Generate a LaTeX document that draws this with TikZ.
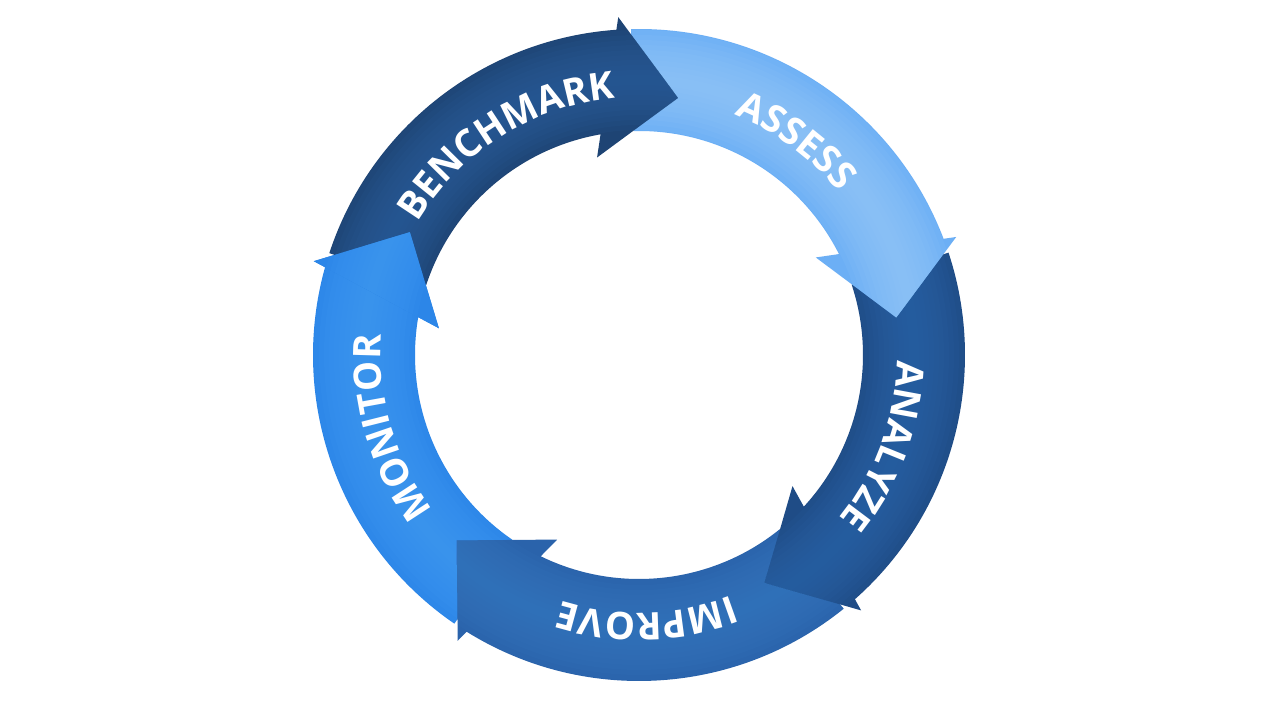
\documentclass[tikz,border=0pt]{standalone}
\usepackage{fontspec}
\setmainfont{Open Sans}
\usetikzlibrary{decorations.text}
\definecolor{bmBase}{HTML}{1E4474}\definecolor{bmGlow}{HTML}{2B5F9D}
\definecolor{asBase}{HTML}{6CAFF5}\definecolor{asGlow}{HTML}{95C9FB}
\definecolor{anBase}{HTML}{1F4C86}\definecolor{anGlow}{HTML}{2B66AA}
\definecolor{imBase}{HTML}{2A63AB}\definecolor{imGlow}{HTML}{3677C0}
\definecolor{moBase}{HTML}{2C86E8}\definecolor{moGlow}{HTML}{419AF3}
% arrow outline: #1 = tail angle, #2 = tip angle
\newcommand{\ArrowPath}[2]{({#1}:326) arc[start angle={#1}, end angle={#2+12.58}, radius=326] -- ({#2+12.11}:338.5) -- ({#2}:260) -- ({#2+20.59}:201.9) -- ({#2+18.48}:224) arc[start angle={#2+18.48}, end angle={#1}, radius=224] -- cycle}
\newcommand{\HeadPath}[1]{({#1+12.11}:338.5) -- ({#1}:260) -- ({#1+20.59}:201.9) -- cycle}
\newcommand{\ArrowPaint}[4]{%
  \fill[#3] (0,0) circle (400);
  \foreach \w in {100,90,...,10}
    \draw[#4, opacity=0.13, line width=\w pt] ({#1}:275) arc[start angle={#1}, end angle={#2}, radius=275];}
\newcommand{\DrawArrow}[4]{%
  \begin{scope}\clip \ArrowPath{#1}{#2}; \ArrowPaint{#1}{#2}{#3}{#4}\end{scope}}
\newcommand{\lbl}{\fontsize{38}{38}\selectfont\bfseries}
\tikzset{ringlabel/.style={decorate, decoration={text along path, text={|\lbl|#1}, text align=center, text color=white}}}
\begin{document}
\begin{tikzpicture}[x=1pt,y=1pt]
\useasboundingbox (0,0) rectangle (1280,720);
\fill[white] (0,0) rectangle (1280,720);
\begin{scope}[shift={(639,365)}]
\coordinate (C) at (0,0);
% bodies, drawn so that each head lies over the next tail
\DrawArrow{235.5}{151.8}{moBase}{moGlow}% MONITOR
\DrawArrow{-51.1}{-134.5}{imBase}{imGlow}% IMPROVE
\DrawArrow{18.3}{-61.1}{anBase}{anGlow}% ANALYZE
\DrawArrow{91.4}{8.3}{asBase}{asGlow}% ASSESS
\DrawArrow{161.8}{81.4}{bmBase}{bmGlow}% BENCHMARK
% MONITOR head again, over the BENCHMARK tail
\begin{scope}\clip \HeadPath{151.8}; \ArrowPaint{235.5}{151.8}{moBase}{moGlow}\end{scope}
% labels
\path[ringlabel=BENCHMARK] ({122.2+40}:258) arc[start angle={122.2+40}, end angle={122.2-40}, radius=258];
\path[ringlabel=ASSESS] ({53.8+40}:258) arc[start angle={53.8+40}, end angle={53.8-40}, radius=258];
\path[ringlabel=ANALYZE] ({-20.3+40}:258) arc[start angle={-20.3+40}, end angle={-20.3-40}, radius=258];
\path[ringlabel=IMPROVE] ({-88.3+40}:258) arc[start angle={-88.3+40}, end angle={-88.3-40}, radius=258];
\path[ringlabel=MONITOR] ({196.3+40}:258) arc[start angle={196.3+40}, end angle={196.3-40}, radius=258];
\end{scope}
\end{tikzpicture}
\end{document}
